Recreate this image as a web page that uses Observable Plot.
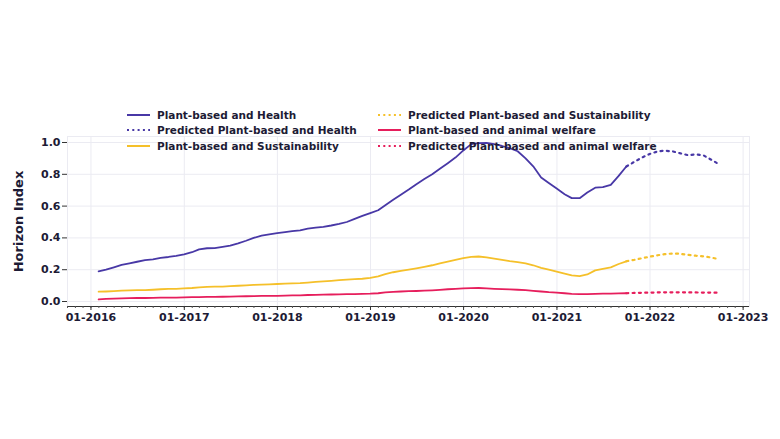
<!DOCTYPE html>
<html>
<head>
<meta charset="utf-8">
<script src="https://cdn.jsdelivr.net/npm/d3@7"></script>
<script src="https://cdn.jsdelivr.net/npm/@observablehq/plot@0.6"></script>
<style>
  html, body { margin: 0; padding: 0; background: #fff; }
  #wrap { position: relative; width: 780px; height: 439px; font-family: "DejaVu Sans", sans-serif; }
  #legend { position: absolute; left: 127px; top: 107px; display: grid;
            grid-template-columns: 251px auto; row-gap: 0px; font-weight: bold;
            font-size: 10.5px; color: #1d1b35; }
  .item { display: flex; align-items: center; height: 15.5px; white-space: nowrap; }
  .item svg { margin-right: 7px; }
</style>
</head>
<body>
<div id="wrap"><div id="chart"></div><div id="legend"></div></div>
<script>
// Monthly horizon index, first point = end of January 2016
const firstMonth = Date.UTC(2016, 1, 1);

const health = [
  0.19, 0.20, 0.215, 0.23, 0.24, 0.25, 0.26, 0.265, 0.275, 0.28, 0.287, 0.297,
  0.31, 0.328, 0.335, 0.336, 0.344, 0.352, 0.366, 0.382, 0.40, 0.414, 0.422, 0.43,
  0.436, 0.442, 0.448, 0.458, 0.464, 0.47, 0.478, 0.488, 0.50, 0.52, 0.538, 0.556,
  0.574, 0.606, 0.64, 0.672, 0.704, 0.738, 0.77, 0.80, 0.835, 0.87, 0.905, 0.95,
  0.99, 0.996, 0.997, 0.99, 0.978, 0.964, 0.945, 0.90, 0.85, 0.78, 0.745, 0.71,
  0.675, 0.65, 0.65, 0.685, 0.716, 0.719, 0.734, 0.79, 0.849
];
const sustainability = [
  0.062, 0.063, 0.065, 0.068, 0.070, 0.071, 0.072, 0.074, 0.077, 0.079, 0.080, 0.082,
  0.085, 0.089, 0.092, 0.093, 0.094, 0.097, 0.099, 0.101, 0.104, 0.106, 0.108, 0.110,
  0.112, 0.114, 0.115, 0.119, 0.123, 0.127, 0.130, 0.134, 0.138, 0.141, 0.143, 0.148,
  0.158, 0.172, 0.184, 0.193, 0.201, 0.209, 0.218, 0.228, 0.240, 0.251, 0.262, 0.273,
  0.281, 0.283, 0.278, 0.270, 0.262, 0.254, 0.248, 0.240, 0.228, 0.212, 0.200, 0.188,
  0.176, 0.164, 0.160, 0.170, 0.196, 0.205, 0.215, 0.236, 0.253
];
const animalWelfare = [
  0.013, 0.016, 0.018, 0.020, 0.021, 0.022, 0.022, 0.023, 0.024, 0.025, 0.025, 0.026,
  0.027, 0.028, 0.029, 0.029, 0.030, 0.031, 0.032, 0.033, 0.034, 0.035, 0.036, 0.036,
  0.037, 0.038, 0.039, 0.041, 0.042, 0.043, 0.044, 0.045, 0.046, 0.047, 0.048, 0.049,
  0.052, 0.057, 0.061, 0.063, 0.065, 0.066, 0.068, 0.070, 0.073, 0.077, 0.080, 0.082,
  0.084, 0.085, 0.083, 0.080, 0.078, 0.076, 0.074, 0.071, 0.067, 0.063, 0.059, 0.056,
  0.052, 0.048, 0.046, 0.047, 0.048, 0.049, 0.050, 0.051, 0.052
];

// Forecast, starting at the last observed month (end of September 2021)
const forecastStart = 68;
const predHealth = [0.849, 0.878, 0.905, 0.928, 0.944, 0.948, 0.944, 0.932, 0.92, 0.925, 0.918, 0.89, 0.862];
const predSustainability = [0.253, 0.262, 0.272, 0.282, 0.291, 0.298, 0.302, 0.300, 0.293, 0.288, 0.284, 0.276, 0.265];
const predAnimalWelfare = [0.052, 0.054, 0.055, 0.056, 0.057, 0.058, 0.058, 0.058, 0.057, 0.057, 0.056, 0.056, 0.055];

const seriesNames = [
  "Plant-based and Health",
  "Predicted Plant-based and Health",
  "Plant-based and Sustainability",
  "Predicted Plant-based and Sustainability",
  "Plant-based and animal welfare",
  "Predicted Plant-based and animal welfare"
];
const yTicks = [0, 0.2, 0.4, 0.6, 0.8, 1.0];

const colors = { health: "#4838a6", sust: "#f5c02a", animal: "#e61e5c" };

const monthEnd = i => d3.utcDay.offset(d3.utcMonth.offset(new Date(firstMonth), i), -1);
const toRows = (values, offset) => values.map((v, i) => ({ date: monthEnd(offset + i), v }));

const series = [
  { rows: toRows(health, 0), color: colors.health, dotted: false },
  { rows: toRows(predHealth, forecastStart), color: colors.health, dotted: true },
  { rows: toRows(sustainability, 0), color: colors.sust, dotted: false },
  { rows: toRows(predSustainability, forecastStart), color: colors.sust, dotted: true },
  { rows: toRows(animalWelfare, 0), color: colors.animal, dotted: false },
  { rows: toRows(predAnimalWelfare, forecastStart), color: colors.animal, dotted: true }
];

const yDomain = [-0.0314, 1.0377];
const xDomain = [new Date("2015-10-01"), new Date("2023-01-26")];
const ink = "#1d1b35";
const grid = "#ebebf2";

const chart = Plot.plot({
  width: 780,
  height: 439,
  marginTop: 136,
  marginBottom: 133,
  marginLeft: 67,
  marginRight: 31,
  style: { fontFamily: "DejaVu Sans", fontSize: "11px", fontWeight: "bold", color: ink, background: "#fff" },
  x: { type: "utc", domain: xDomain },
  y: { domain: yDomain },
  marks: [
    Plot.frame({ stroke: grid }),
    Plot.gridX({ ticks: d3.utcYear, stroke: grid, strokeOpacity: 1 }),
    Plot.gridY(yTicks, { stroke: grid, strokeOpacity: 1 }),
    Plot.ruleY([yDomain[0]], { stroke: "#333", strokeWidth: 1.2 }),
    Plot.axisX({ ticks: d3.utcMonth, tickSize: 2, tickFormat: () => "", stroke: "#555" }),
    Plot.axisX({ ticks: d3.utcYear, tickSize: 4, tickPadding: 3, tickFormat: d3.utcFormat("%m-%Y"),
                 label: null, fill: ink, stroke: "#333" }),
    Plot.axisY(yTicks, { tickSize: 5, tickPadding: 2, tickFormat: d3.format(".1f"),
                 label: null, fill: ink, stroke: "#333" }),
    Plot.text(["Horizon Index"], { frameAnchor: "left", textAnchor: "middle", dx: -49, rotate: -90,
                 fontSize: 13, fontWeight: "bold", fill: ink }),
    ...series.map(s => Plot.line(s.rows, {
      x: "date", y: "v", stroke: s.color,
      strokeWidth: s.dotted ? 2.2 : 1.8,
      strokeDasharray: s.dotted ? "2,4.3" : null
    }))
  ]
});
document.getElementById("chart").appendChild(chart);

// Legend, two columns of three entries
const legend = document.getElementById("legend");
const order = [0, 3, 1, 4, 2, 5];
for (const k of order) {
  const s = series[k];
  const item = document.createElement("div");
  item.className = "item";
  const dash = s.dotted ? `stroke-dasharray="2,3.3"` : "";
  item.innerHTML = `<svg width="23" height="6"><line x1="0" y1="3" x2="23" y2="3" stroke="${s.color}" stroke-width="2" ${dash}/></svg><span>${seriesNames[k]}</span>`;
  legend.appendChild(item);
}
</script>
</body>
</html>
